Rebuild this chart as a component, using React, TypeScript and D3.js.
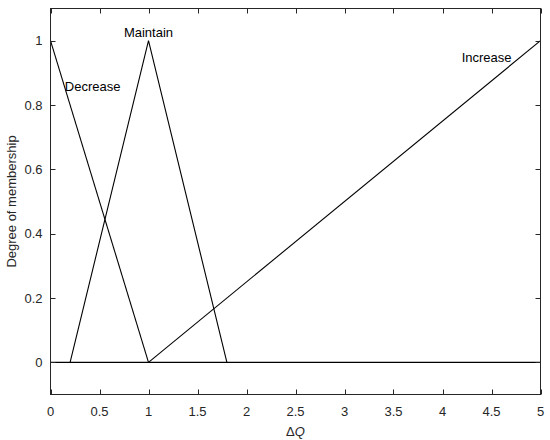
import { useEffect, useRef } from "react";
import * as d3 from "d3";

// membership functions (x, degree)
const decreaseMf: [number, number][] = [[0, 1], [1, 0]];
const maintainMf: [number, number][] = [[0.2, 0], [1, 1], [1.8, 0]];
const increaseMf: [number, number][] = [[1, 0], [5, 1]];
const baseLine: [number, number][] = [[0, 0], [5, 0]];

const mfLabels = [
  { name: "Decrease", x: 0.43, y: 0.845 },
  { name: "Maintain", x: 1.0, y: 1.01 },
  { name: "Increase", x: 4.45, y: 0.935 },
];

const xTicks = [0, 0.5, 1, 1.5, 2, 2.5, 3, 3.5, 4, 4.5, 5];
const yTicks = [0, 0.2, 0.4, 0.6, 0.8, 1];

const App = () => {
  const ref = useRef<SVGSVGElement>(null);

  useEffect(() => {
    const width = 550;
    const height = 440;
    const left = 50.5, right = 540.5, top = 8.5, bottom = 394.5;

    const x = d3.scaleLinear().domain([0, 5]).range([left, right]);
    const y = d3.scaleLinear().domain([-0.1, 1.1]).range([bottom, top]);

    const svg = d3.select(ref.current)
      .attr("width", width)
      .attr("height", height);
    svg.selectAll("*").remove();

    const font = "Arial, 'Liberation Sans', Helvetica, sans-serif";
    const axisColor = "#262626";
    const tickLen = 5;

    svg.append("rect")
      .attr("width", width).attr("height", height).attr("fill", "white");

    const line = d3.line<[number, number]>()
      .x((d) => x(d[0]))
      .y((d) => y(d[1]));

    svg.append("g")
      .selectAll("path")
      .data([baseLine, decreaseMf, maintainMf, increaseMf])
      .join("path")
      .attr("d", (d) => line(d))
      .attr("fill", "none")
      .attr("stroke", "black")
      .attr("stroke-width", 1.1);

    // box
    svg.append("rect")
      .attr("x", left).attr("y", top)
      .attr("width", right - left).attr("height", bottom - top)
      .attr("fill", "none")
      .attr("stroke", axisColor)
      .attr("stroke-width", 1);

    const ticks = svg.append("g").attr("stroke", axisColor).attr("stroke-width", 1);
    xTicks.forEach((t) => {
      const px = Math.round(x(t)) + 0.5;
      ticks.append("line").attr("x1", px).attr("x2", px).attr("y1", bottom).attr("y2", bottom - tickLen);
      ticks.append("line").attr("x1", px).attr("x2", px).attr("y1", top).attr("y2", top + tickLen);
    });
    yTicks.forEach((t) => {
      const py = Math.round(y(t)) + 0.5;
      ticks.append("line").attr("x1", left).attr("x2", left + tickLen).attr("y1", py).attr("y2", py);
      ticks.append("line").attr("x1", right).attr("x2", right - tickLen).attr("y1", py).attr("y2", py);
    });

    svg.append("g")
      .selectAll("text")
      .data(xTicks)
      .join("text")
      .attr("x", (d) => x(d))
      .attr("y", bottom + 21)
      .attr("text-anchor", "middle")
      .attr("font-family", font)
      .attr("font-size", 13)
      .attr("fill", axisColor)
      .text((d) => String(d));

    svg.append("g")
      .selectAll("text")
      .data(yTicks)
      .join("text")
      .attr("x", left - 8)
      .attr("y", (d) => y(d))
      .attr("dy", "0.35em")
      .attr("text-anchor", "end")
      .attr("font-family", font)
      .attr("font-size", 13)
      .attr("fill", axisColor)
      .text((d) => String(d));

    const xl = svg.append("text")
      .attr("x", (left + right) / 2)
      .attr("y", 436)
      .attr("text-anchor", "middle")
      .attr("font-family", font)
      .attr("font-size", 13)
      .attr("fill", axisColor);
    xl.append("tspan").text("Δ");
    xl.append("tspan").attr("font-style", "italic").text("Q");

    svg.append("text")
      .attr("transform", `translate(16,${(top + bottom) / 2}) rotate(-90)`)
      .attr("text-anchor", "middle")
      .attr("font-family", font)
      .attr("font-size", 13)
      .attr("fill", axisColor)
      .text("Degree of membership");

    svg.append("g")
      .selectAll("text")
      .data(mfLabels)
      .join("text")
      .attr("x", (d) => x(d.x))
      .attr("y", (d) => y(d.y))
      .attr("text-anchor", "middle")
      .attr("font-family", font)
      .attr("font-size", 13)
      .attr("fill", "black")
      .text((d) => d.name);
  }, []);

  return (
    <svg ref={ref} style={{ position: "absolute", left: 0, top: 0, display: "block" }}></svg>
  );
};

export default App;
